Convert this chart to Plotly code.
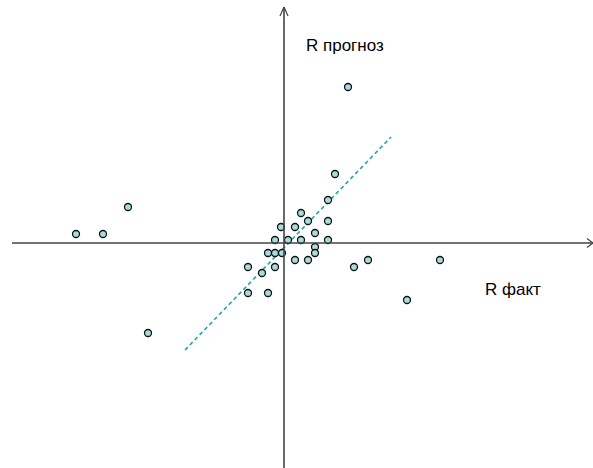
import plotly.graph_objects as go

# Actual vs. forecast R values
r_fact = [4.4, 1.7, 2.4, 4.4, -0.3, 1.1, 3.1, -0.9, 0.4, 1.7, 4.4, 3.1,
          -1.6, -0.9, -0.2, 3.1, 1.1, 2.4, -3.6, -0.9, 7.0, -2.2, -3.6, -1.6,
          -20.8, -18.1, -15.6, -13.6, 6.4, 5.1, 8.4, 15.6, 12.3]
r_forecast = [4.3, 3.0, 2.2, 2.2, 1.6, 1.6, 1.0, 0.3, 0.3, 0.3, 0.3, -0.4,
              -1.0, -1.0, -1.0, -1.0, -1.7, -1.7, -2.4, -2.4, -2.4, -3.0, -5.0, -5.0,
              0.9, 0.9, 3.6, -9.0, 15.6, 6.9, -1.7, -1.7, -5.7]

# Trend line endpoints
trend_x = [-9.9, 10.7]
trend_y = [-10.7, 10.6]

x_range = [-28.4, 30.9]
y_range = [-22.5, 24.3]

fig = go.Figure()

fig.add_trace(go.Scatter(
    x=trend_x, y=trend_y, mode="lines",
    line=dict(color="#1fa6a6", width=1.6, dash="4px,3px"),
    hoverinfo="skip", showlegend=False,
))

fig.add_trace(go.Scatter(
    x=r_fact, y=r_forecast, mode="markers",
    marker=dict(size=7, color="#aadcdc", line=dict(color="#111111", width=1.3)),
    showlegend=False,
))

axis_color = "#444444"
shapes = [
    # horizontal axis with open arrow head
    dict(type="line", xref="x", yref="y", x0=-27.2, y0=0, x1=30.9, y1=0,
         line=dict(color=axis_color, width=1.6)),
    dict(type="line", xref="x", yref="y", x0=30.3, y0=0.45, x1=30.9, y1=0,
         line=dict(color=axis_color, width=1.2)),
    dict(type="line", xref="x", yref="y", x0=30.3, y0=-0.45, x1=30.9, y1=0,
         line=dict(color=axis_color, width=1.2)),
    # vertical axis with open arrow head
    dict(type="line", xref="x", yref="y", x0=0, y0=-22.5, x1=0, y1=23.6,
         line=dict(color=axis_color, width=1.6)),
    dict(type="line", xref="x", yref="y", x0=-0.4, y0=22.7, x1=0, y1=23.6,
         line=dict(color=axis_color, width=1.2)),
    dict(type="line", xref="x", yref="y", x0=0.4, y0=22.7, x1=0, y1=23.6,
         line=dict(color=axis_color, width=1.2)),
]

label_font = dict(family="Liberation Sans, Arial", size=17, color="#000000")
annotations = [
    dict(x=2.0, y=19.8, xref="x", yref="y", text="R прогноз", showarrow=False,
         xanchor="left", yanchor="middle", font=label_font),
    dict(x=19.9, y=-4.6, xref="x", yref="y", text="R факт", showarrow=False,
         xanchor="left", yanchor="middle", font=label_font),
]

fig.update_layout(
    width=593, height=468,
    margin=dict(l=0, r=0, t=0, b=0),
    paper_bgcolor="white", plot_bgcolor="white",
    shapes=shapes, annotations=annotations,
    xaxis=dict(range=x_range, visible=False, fixedrange=True),
    yaxis=dict(range=y_range, visible=False, fixedrange=True),
    showlegend=False,
)

fig.write_html("out.html")
